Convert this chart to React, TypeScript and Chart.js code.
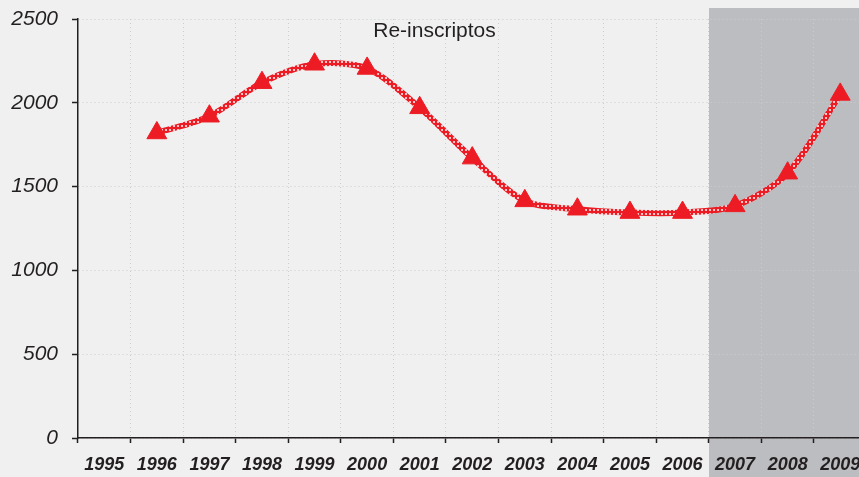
import React, { useEffect, useRef } from "react";
import { Chart, registerables } from "chart.js";

Chart.register(...registerables);

const categories = ["1995", "1996", "1997", "1998", "1999", "2000", "2001", "2002", "2003", "2004", "2005", "2006", "2007", "2008", "2009"];
const reinscriptos: (number | null)[] = [null, 1820, 1920, 2120, 2230, 2205, 1970, 1670, 1415, 1365, 1345, 1345, 1385, 1580, 2050];
const yTicks = [0, 500, 1000, 1500, 2000, 2500];
const titleText = "Re-inscriptos";
const shadedFrom = "2007";

const RED = "#ED1C24";
const INK = "#231F20";
const BG = "#EFF0EF";
const SHADE = "#BCBDC0";

export default function App() {
  const ref = useRef<HTMLCanvasElement>(null);
  useEffect(() => {
    if (!ref.current) return;
    const pc = document.createElement("canvas");
    pc.width = 4;
    pc.height = 4;
    const p = pc.getContext("2d")!;
    p.fillStyle = RED;
    p.fillRect(0, 0, 4, 4);
    p.fillStyle = "rgba(255,255,255,0.75)";
    p.fillRect(1, 1, 2, 2);
    const pattern = ref.current.getContext("2d")!.createPattern(pc, "repeat")!;

    const bgPlugin = {
      id: "bgShade",
      beforeDraw(chart: any) {
        const { ctx, width, height } = chart;
        const xs = chart.scales.x;
        ctx.save();
        ctx.fillStyle = BG;
        ctx.fillRect(0, 0, width, height);
        const idx = categories.indexOf(shadedFrom);
        const half = (xs.getPixelForValue(1) - xs.getPixelForValue(0)) / 2;
        const x0 = xs.getPixelForValue(idx) - half;
        ctx.fillStyle = SHADE;
        ctx.fillRect(Math.round(x0), 8, width - x0, height - 8);
        ctx.restore();
      },
      afterDraw(chart: any) {
        const { ctx } = chart;
        ctx.save();
        ctx.fillStyle = INK;
        ctx.font = "21px 'Liberation Sans', Arial, sans-serif";
        ctx.textAlign = "center";
        ctx.textBaseline = "middle";
        ctx.fillText(titleText, 434.5, 31);
        ctx.restore();
      },
    };

    const chart = new Chart(ref.current, {
      type: "line",
      data: {
        labels: categories,
        datasets: [
          {
            label: titleText,
            data: reinscriptos,
            borderColor: pattern as any,
            borderWidth: 6,
            tension: 0.3,
            pointStyle: "triangle",
            pointRadius: 11.5,
            pointBackgroundColor: RED,
            pointBorderColor: RED,
            pointBorderWidth: 1,
            spanGaps: false,
          },
        ],
      },
      options: {
        responsive: false,
        animation: false,
        layout: { padding: { top: 19, right: 0, left: 0, bottom: 0 } },
        plugins: { legend: { display: false }, title: { display: false }, tooltip: { enabled: false } },
        scales: {
          x: {
            offset: true,
            grid: {
              offset: true,
              color: "#CBCCCC",
              lineWidth: 1,
              tickColor: INK,
              tickLength: 5,
              tickWidth: 1.5,
              tickBorderDash: [],
            },
            border: { color: INK, width: 1.5, dash: [1, 3] },
            ticks: {
              color: INK,
              font: { family: "'Liberation Sans', Arial, sans-serif", size: 18, style: "italic", weight: "bold" },
              padding: 11,
              maxRotation: 0,
              autoSkip: false,
            },
            afterFit(scale: any) {
              scale.height = 39;
              scale.paddingLeft = 0;
              scale.paddingRight = 0;
            },
          },
          y: {
            min: 0,
            max: 2500,
            afterBuildTicks(scale: any) {
              scale.ticks = yTicks.map((v) => ({ value: v }));
            },
            grid: {
              color: "#CBCCCC",
              lineWidth: 1,
              tickColor: INK,
              tickLength: 6,
              tickWidth: 1.5,
              tickBorderDash: [],
            },
            border: { color: INK, width: 1.5, dash: [1, 3] },
            ticks: {
              color: INK,
              font: { family: "'Liberation Sans', Arial, sans-serif", size: 21, style: "italic" },
              padding: 14,
              callback: (v: any) => String(v),
            },
            afterFit(scale: any) {
              scale.width = 78;
              scale.paddingTop = 0;
              scale.paddingBottom = 0;
            },
          },
        },
      },
      plugins: [bgPlugin],
    });
    return () => chart.destroy();
  }, []);

  return (
    <div style={{ position: "fixed", left: 0, top: 0, width: 859, height: 477, overflow: "hidden", background: BG }}>
      <canvas ref={ref} width={879} height={477} style={{ display: "block", width: 879, height: 477 }} />
    </div>
  );
}
